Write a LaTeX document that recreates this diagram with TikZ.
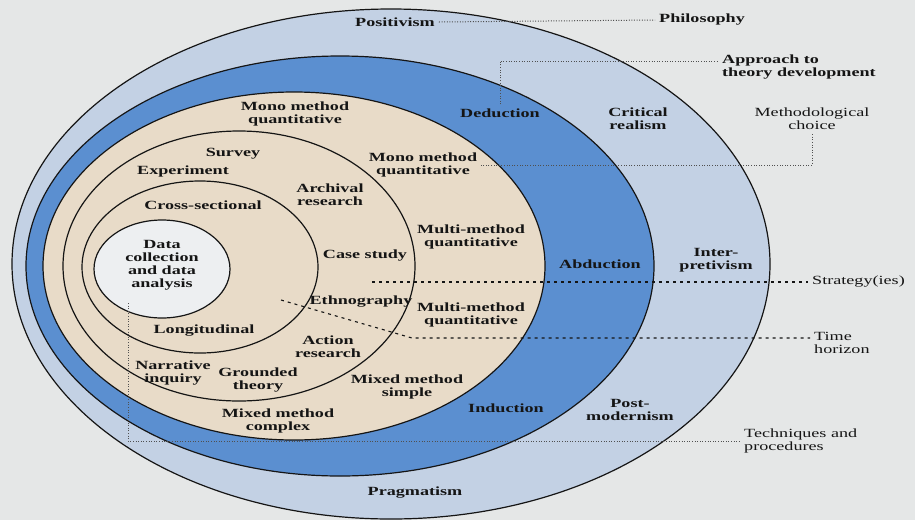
\documentclass[tikz,border=0pt]{standalone}
\usepackage{fontspec}
\setmainfont{Liberation Serif}[FakeStretch=1.45]
\definecolor{paper}{HTML}{E5E7E7}
\definecolor{philblue}{HTML}{C3D1E4}
\definecolor{appblue}{HTML}{5B8FD0}
\definecolor{beige}{HTML}{E8DBC8}
\definecolor{core}{HTML}{EDEFF1}
\definecolor{ink}{HTML}{151515}
\begin{document}
\begin{tikzpicture}[x=1pt,y=-1pt,
  ring/.style={draw=ink, line width=1.2pt},
  lab/.style={font=\fontsize{12.5}{13}\selectfont\bfseries, align=center, inner sep=0pt, text=ink},
  plain/.style={font=\fontsize{12.5}{13}\selectfont, align=center, inner sep=0pt, text=ink},
  tag/.style={plain, align=left, anchor=west},
  leader/.style={draw=ink!75, line width=1pt, dash pattern=on 1pt off 1.6pt},
  dashlead/.style={draw=ink, line width=1.1pt, dash pattern=on 3pt off 4pt}]

\useasboundingbox (0,0) rectangle (915,520);
\fill[paper] (0,0) rectangle (915,520);

% the onion: six nested layers
\filldraw[ring, fill=philblue] (391,264) ellipse [x radius=379pt, y radius=255pt];
\filldraw[ring, fill=appblue]  (340,266) ellipse [x radius=314pt, y radius=210pt];
\filldraw[ring, fill=beige]    (294,266) ellipse [x radius=251pt, y radius=174pt];
\draw[ring] (239,266) ellipse [x radius=176pt, y radius=135pt];
\draw[ring] (200,267) ellipse [x radius=118pt, y radius=86pt];
\filldraw[ring, fill=core] (162,269) ellipse [x radius=68pt, y radius=49pt];

% philosophy ring
\node[lab] (positivism) at (395,22) {Positivism};
\node[lab] (critical) at (638,119) {Critical\\realism};
\node[lab] (interp) at (716,260) {Inter-\\pretivism};
\node[lab] (postmod) at (630,410) {Post-\\modernism};
\node[lab] (pragmatism) at (415,493) {Pragmatism};

% approach ring
\node[lab] (deduction) at (500,113) {Deduction};
\node[lab] (abduction) at (600,264) {Abduction};
\node[lab] (induction) at (506,408) {Induction};

% methodological choice ring
\node[lab] (monotop) at (295,114) {Mono method\\quantitative};
\node[lab] (monoright) at (423,165) {Mono method\\quantitative};
\node[lab] (multione) at (471,237) {Multi-method\\quantitative};
\node[lab] (multitwo) at (471,315) {Multi-method\\quantitative};
\node[lab] (mixsimple) at (407,387) {Mixed method\\simple};
\node[lab] (mixcomplex) at (278,421) {Mixed method\\complex};

% strategies ring
\node[lab] (survey) at (233,154) {Survey};
\node[lab] (experiment) at (183,171) {Experiment};
\node[lab] (archival) at (330,195) {Archival\\research};
\node[lab] (casestudy) at (365,256) {Case study};
\node[lab] (ethno) at (361,302) {Ethnography};
\node[lab] (action) at (328,347) {Action\\research};
\node[lab] (grounded) at (258,380) {Grounded\\theory};
\node[lab] (narrative) at (173,373) {Narrative\\inquiry};

% time horizon ring
\node[lab] (cross) at (203,205) {Cross-sectional};
\node[lab] (longit) at (204,331) {Longitudinal};

% core
\node[lab] (core) at (162,265) {Data\\collection\\and data\\analysis};

% layer names on the right
\node[lab, anchor=west] (philosophy) at (659,20) {Philosophy};
\node[lab, anchor=west, align=left] (approach) at (722,67) {Approach to\\theory development};
\node[plain] (method) at (812,119) {Methodological\\choice};
\node[tag] (strategy) at (812,282) {Strategy(ies)};
\node[tag] (timehorizon) at (814,343) {Time\\horizon};
\node[tag] (techniques) at (744,441) {Techniques and\\procedures};

% leaders
\draw[leader] ([xshift=4pt]positivism.east) -- ([xshift=-4pt]philosophy.west);
\coordinate (dedtop) at ([yshift=4pt]deduction.north);
\draw[leader] (dedtop) |- ([xshift=-4pt,yshift=6pt]approach.west);
\draw[leader] ([yshift=-4pt]method.south) |- ([xshift=4pt]monoright.east);
\coordinate (stratin) at (372,282);
\draw[dashlead] (stratin) -- ([xshift=-4pt]strategy.west);
\coordinate (timein) at (281,300);
\coordinate (timebend) at (412,338);
\coordinate (timeout) at (timebend -| timehorizon.west);
\draw[dashlead] (timein) -- (timebend) -- ([xshift=-4pt]timeout);
\coordinate (techin) at (128,303);
\draw[leader] (techin) |- ([xshift=-4pt]techniques.west);
\end{tikzpicture}
\end{document}
